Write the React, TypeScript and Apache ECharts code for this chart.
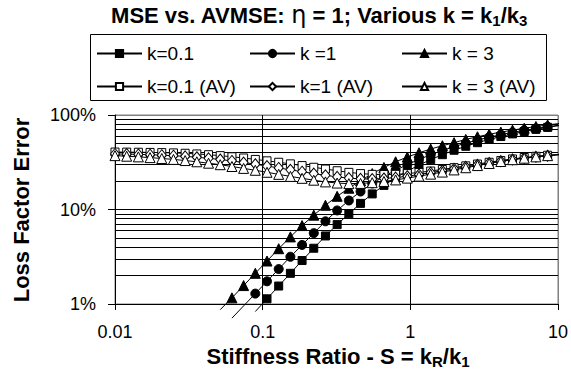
import React, { useEffect, useRef } from 'react';
import * as echarts from 'echarts';

// Stiffness ratio S (x values, geometric steps of 1.2)
const S_VALUES = [
  0.01, 0.012, 0.0144, 0.01728, 0.02074, 0.02488, 0.02986, 0.03583, 0.043, 0.0516,
  0.06192, 0.0743, 0.08916, 0.107, 0.1284, 0.1541, 0.1849, 0.2219, 0.2662, 0.3195,
  0.3834, 0.4601, 0.5521, 0.6625, 0.795, 0.954, 1.145, 1.374, 1.648, 1.978,
  2.374, 2.849, 3.418, 4.102, 4.922, 5.907, 7.088, 8.506, 10.21, 12.25,
];

// Loss factor error (%) — MSE
const MSE_K01 = [
  null, null, null, null, null, null, null, null, null, null,
  null, null, 0.832, 1.135, 1.549, 2.113, 2.884, 3.89, 5.248, 6.918,
  9.016, 11.61, 14.62, 17.99, 21.63, 25.41, 29.51, 33.73, 38.02, 42.36,
  46.67, 50.93, 55.08, 59.16, 63.1, 66.83, 70.47, 73.96, 77.27, 80.35,
];
const MSE_K1 = [
  null, null, null, null, null, null, null, null, null, null,
  0.708, 0.955, 1.288, 1.738, 2.344, 3.162, 4.217, 5.623, 7.499, 9.772,
  12.45, 15.49, 18.84, 22.39, 26.0, 29.85, 33.88, 38.02, 42.17, 46.24,
  50.35, 54.33, 58.21, 61.94, 65.46, 68.87, 72.11, 75.16, 78.16, 80.91,
];
const MSE_K3 = [
  null, null, null, null, null, null, null, null, null, 0.871,
  1.161, 1.567, 2.113, 2.851, 3.846, 5.129, 6.761, 8.71, 11.09, 13.8,
  16.79, 20.18, 23.99, 27.86, 31.99, 35.89, 39.81, 43.65, 47.32, 50.93,
  55.21, 58.88, 62.52, 65.92, 69.18, 72.44, 75.51, 78.52, 81.28, 83.95,
];

// Loss factor error (%) — AVMSE
const AV_K01 = [
  40.55, 40.46, 40.36, 40.18, 39.99, 39.72, 39.36, 38.73, 38.02, 37.15,
  36.14, 35.08, 33.88, 32.73, 31.62, 30.41, 29.17, 27.99, 26.79, 25.7,
  24.71, 23.99, 23.55, 23.44, 23.55, 23.99, 24.66, 25.53, 26.55, 27.73,
  28.97, 30.27, 31.62, 32.96, 34.28, 35.48, 36.56, 37.5, 38.37, 39.18,
];
const AV_K1 = [
  38.73, 38.55, 38.28, 38.02, 37.58, 37.07, 36.48, 35.73, 34.83, 33.81,
  32.66, 31.41, 30.13, 28.84, 27.54, 26.3, 25.12, 23.99, 23.01, 22.13,
  21.48, 21.09, 20.99, 21.28, 21.78, 22.49, 23.44, 24.55, 25.7, 26.98,
  28.31, 29.72, 31.12, 32.51, 33.88, 35.08, 36.14, 37.07, 37.93, 38.73,
];
const AV_K3 = [
  37.15, 36.64, 36.06, 35.4, 34.67, 33.88, 32.96, 31.99, 30.9, 29.79,
  28.51, 27.23, 26.0, 24.77, 23.55, 22.39, 21.38, 20.42, 19.59, 19.05,
  18.79, 18.88, 19.23, 19.82, 20.56, 21.48, 22.54, 23.66, 24.89, 26.24,
  27.67, 29.17, 30.69, 32.21, 33.65, 34.91, 36.06, 37.15, 38.11, 39.0,
];

const SERIES_NAMES = ['k=0.1', 'k =1', 'k = 3', 'k=0.1 (AV)', 'k=1 (AV)', 'k = 3 (AV)'];
const Y_MINOR_TICKS = [2, 3, 4, 5, 6, 7, 8, 9, 20, 30, 40, 50, 60, 70, 80, 90];
const X_MIN = 0.01;
const X_MAX = 10;
const Y_MIN = 1;
const Y_MAX = 100;

const FONT = '"Liberation Sans", Arial, sans-serif';

function buildData(values: (number | null)[]) {
  const out: any[] = [];
  values.forEach((v, i) => {
    if (v == null) return;
    const s = S_VALUES[i];
    const hidden = v < Y_MIN || s > X_MAX;
    out.push(hidden ? { value: [s, v], symbol: 'none' } : [s, v]);
  });
  return out;
}

export default function App() {
  const ref = useRef<HTMLDivElement>(null);

  useEffect(() => {
    document.body.style.margin = '0';
    if (!ref.current) return;
    const chart = echarts.init(ref.current, undefined, { renderer: 'svg' });

    const valueSets = [MSE_K01, MSE_K1, MSE_K3, AV_K01, AV_K1, AV_K3];
    const symbols = ['rect', 'circle', 'triangle', 'rect', 'diamond', 'triangle'];
    const sizes: any[] = [8, 9, 10, 8, [9, 11], 10];
    const fills = ['#000', '#000', '#000', '#fff', '#fff', '#fff'];

    const series: any[] = SERIES_NAMES.map((name, k) => ({
      name,
      type: 'line',
      data: buildData(valueSets[k]),
      symbol: symbols[k],
      symbolSize: sizes[k],
      showAllSymbol: true,
      clip: false,
      lineStyle: { color: '#000', width: 1 },
      itemStyle: { color: fills[k], borderColor: '#000', borderWidth: 1 },
      emphasis: { disabled: true },
      z: 3 + k,
    }));

    series[0].markLine = {
      silent: true,
      symbol: ['none', 'none'],
      label: { show: false },
      lineStyle: { color: '#000', width: 1, type: 'solid' },
      emphasis: { disabled: true },
      data: Y_MINOR_TICKS.map((v) => ({ yAxis: v })),
    };

    const legendLeft = [96, 249, 401];
    const legendTop = [44, 77];
    const legends = SERIES_NAMES.map((name, k) => ({
      data: [name],
      left: legendLeft[k % 3],
      top: legendTop[Math.floor(k / 3)],
      itemWidth: 45,
      itemHeight: 9,
      itemGap: 0,
      padding: 0,
      selectedMode: false,
      textStyle: { fontSize: 19, color: '#000', fontFamily: FONT },
    }));

    const richMain = { fontSize: 22, fontWeight: 'bold', fontFamily: FONT, color: '#000', lineHeight: 26 };
    const richSub = { fontSize: 15, fontWeight: 'bold', fontFamily: FONT, color: '#000', lineHeight: 15, verticalAlign: 'bottom' };

    chart.setOption({
      animation: false,
      backgroundColor: '#fff',
      grid: {
        left: 115, right: 9, top: 115, bottom: 65,
        show: true, borderColor: '#808080', borderWidth: 1, backgroundColor: '#fff',
      },
      xAxis: {
        type: 'log',
        logBase: 10,
        min: X_MIN,
        max: X_MAX,
        axisLine: { show: true, lineStyle: { color: '#000', width: 1 } },
        axisTick: { show: true, length: 6, lineStyle: { color: '#000' } },
        axisLabel: {
          fontSize: 18, lineHeight: 18, color: '#000', fontFamily: FONT, margin: 19,
          formatter: (v: number) => String(parseFloat(Number(v).toPrecision(3))),
        },
        splitLine: { show: true, lineStyle: { color: ['#000', '#000', '#000', '#808080'], width: 1 } },
        minorTick: { show: false },
      },
      yAxis: {
        type: 'log',
        logBase: 10,
        min: Y_MIN,
        max: Y_MAX,
        axisLine: { show: true, lineStyle: { color: '#000', width: 1 } },
        axisTick: { show: true, length: 7, lineStyle: { color: '#000' } },
        axisLabel: {
          fontSize: 18, color: '#000', fontFamily: FONT, margin: 19,
          formatter: (v: number) => `${parseFloat(Number(v).toPrecision(3))}%`,
        },
        splitLine: { show: true, lineStyle: { color: ['#000', '#000', '#808080'], width: 1 } },
        minorTick: { show: false },
      },
      legend: legends,
      graphic: [
        {
          type: 'rect',
          shape: { x: 90.5, y: 34.5, width: 456, height: 66 },
          style: { fill: '#fff', stroke: '#000', lineWidth: 1 },
          z: 0,
          silent: true,
        },
        {
          type: 'text',
          x: 319,
          y: 15,
          silent: true,
          style: {
            text: '{b|MSE vs. AVMSE: }{eta|η}{b| = 1; Various k = k}{s|1}{b|/k}{s|3}',
            align: 'center',
            verticalAlign: 'middle',
            rich: {
              b: richMain,
              s: richSub,
              eta: { fontSize: 24, fontWeight: 'normal', fontFamily: '"DejaVu Sans", sans-serif', color: '#000', lineHeight: 26 },
            },
          },
        },
        {
          type: 'text',
          x: 338,
          y: 356,
          silent: true,
          style: {
            text: '{b|Stiffness Ratio - S = k}{s|R}{b|/k}{s|1}',
            align: 'center',
            verticalAlign: 'middle',
            rich: { b: richMain, s: richSub },
          },
        },
        {
          type: 'text',
          x: 21,
          y: 210,
          rotation: Math.PI / 2,
          silent: true,
          style: {
            text: 'Loss Factor Error',
            align: 'center',
            verticalAlign: 'middle',
            fontSize: 22,
            fontWeight: 'bold',
            fontFamily: FONT,
            fill: '#000',
          },
        },
      ],
      series,
    });

    return () => chart.dispose();
  }, []);

  return <div ref={ref} style={{ width: 571, height: 369 }} />;
}
